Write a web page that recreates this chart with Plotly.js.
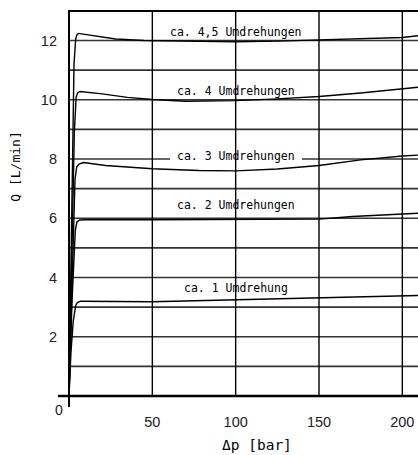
<!DOCTYPE html>
<html>
<head>
<meta charset="utf-8">
<script src="https://cdn.plot.ly/plotly-3.0.1.min.js"></script>
<style>html,body{margin:0;padding:0;background:#fff;}#chart{width:418px;height:455px;}</style>
</head>
<body>
<div id="chart"></div>
<script>
// Δp [bar] and Q [L/min] per curve
const x45 = [0, 1.5, 3, 4, 4.8, 5.6, 15, 28, 45, 75, 100, 125, 150, 175, 200, 209.4];
const y45 = [0, 5.5, 11.2, 12.05, 12.2, 12.24, 12.17, 12.05, 12.0, 11.97, 11.96, 11.98, 12.02, 12.06, 12.1, 12.16];

const x4 = [0, 1.6, 3.2, 4.3, 5.2, 6.6, 20, 35, 50, 70, 100, 125, 150, 175, 200, 209.4];
const y4 = [0, 4.5, 8.9, 10.1, 10.23, 10.28, 10.2, 10.08, 10.01, 9.95, 9.97, 10.03, 10.11, 10.23, 10.36, 10.42];

const x3 = [0, 1.8, 3.6, 4.6, 6, 8.6, 22, 50, 78, 100, 125, 150, 175, 200, 209.4];
const y3 = [0, 3.8, 7.3, 7.73, 7.83, 7.88, 7.78, 7.67, 7.61, 7.6, 7.66, 7.78, 7.97, 8.1, 8.13];

const x2 = [0, 1.8, 3.8, 4.8, 6.5, 10, 50, 100, 150, 170, 200, 209.4];
const y2 = [0, 3.2, 5.6, 5.88, 5.94, 5.95, 5.95, 5.95, 5.97, 6.06, 6.13, 6.17];

const x1 = [0, 1.2, 2.5, 4, 5, 7, 50, 75, 100, 150, 200, 209.4];
const y1 = [0, 1.5, 2.5, 3.05, 3.15, 3.2, 3.18, 3.21, 3.26, 3.3, 3.36, 3.39];

const curveLabels = ["ca. 4,5 Umdrehungen", "ca. 4 Umdrehungen", "ca. 3 Umdrehungen", "ca. 2 Umdrehungen", "ca. 1 Umdrehung"];
const labelX = [100, 100, 100, 100, 100];
const labelY = [12.3, 10.3, 8.1, 6.45, 3.63];

const xTicks = [50, 100, 150, 200];
const yTicks = [2, 4, 6, 8, 10, 12];
const xTitle = "Δp [bar]";
const yTitle = "Q [L/min]";

const series = [[x45, y45], [x4, y4], [x3, y3], [x2, y2], [x1, y1]];
const traces = series.map(s => ({
  x: s[0], y: s[1], type: 'scatter', mode: 'lines',
  line: {color: '#000', width: 1.4}, hoverinfo: 'skip', showlegend: false
}));

const shapes = [];
const hGrid = [1,2,3,4,5,6,7,8,9,10,11,12];
hGrid.forEach(v => {
  if (v === 8) {
    shapes.push({type:'line', xref:'x', yref:'y', x0:0, x1:60.6, y0:v, y1:v, line:{color:'#333', width:1.6}, layer:'below'});
    shapes.push({type:'line', xref:'x', yref:'y', x0:139.8, x1:212, y0:v, y1:v, line:{color:'#333', width:1.6}, layer:'below'});
  } else {
    shapes.push({type:'line', xref:'x', yref:'y', x0:0, x1:212, y0:v, y1:v, line:{color:'#333', width:1.6}, layer:'below'});
  }
});
xTicks.forEach(v => {
  shapes.push({type:'line', xref:'x', yref:'y', x0:v, x1:v, y0:0, y1:13, line:{color:'#000', width:1.4}, layer:'below'});
});
// top border
shapes.push({type:'line', xref:'x', yref:'y', x0:0, x1:212, y0:13, y1:13, line:{color:'#000', width:2}, layer:'below'});
// axis lines
shapes.push({type:'line', xref:'x', yref:'y', x0:-6.6, x1:212, y0:0, y1:0, line:{color:'#000', width:2.4}, layer:'below'});
shapes.push({type:'line', xref:'x', yref:'y', x0:0, x1:0, y0:-0.37, y1:13.1, line:{color:'#000', width:2}, layer:'below'});

const annFont = {family: 'DejaVu Sans Mono', size: 11.5, color: '#000'};
const annotations = curveLabels.map((t, i) => ({
  x: labelX[i], y: labelY[i], xref: 'x', yref: 'y', text: t, showarrow: false,
  font: annFont, xanchor: 'center', yanchor: 'middle'
}));
annotations.push({xref:'paper', yref:'paper', x:0.003, y:-0.007, text:'0', showarrow:false,
  font:{family:'Liberation Sans', size:14, color:'#222'}, xanchor:'center', yanchor:'middle'});
annotations.push({xref:'paper', yref:'paper', x:-0.117, y:0.605, text:yTitle, showarrow:false, textangle:-90,
  font:{family:'DejaVu Sans Mono', size:13, color:'#000'}, xanchor:'center', yanchor:'middle'});
annotations.push({xref:'paper', yref:'paper', x:0.553, y:-0.096, text:xTitle, showarrow:false,
  font:{family:'DejaVu Sans Mono', size:14.5, color:'#000'}, xanchor:'center', yanchor:'middle'});

const layout = {
  width: 418, height: 455,
  margin: {l: 58, r: 0, t: 10, b: 48, pad: 0},
  paper_bgcolor: '#fff', plot_bgcolor: '#fff',
  showlegend: false,
  xaxis: {range: [-6.6, 209.4], showgrid: false, zeroline: false, showline: false,
    tickvals: xTicks, ticks: '', ticklabelstandoff: 4, tickfont: {family: 'Liberation Sans', size: 14.5, color: '#222'}, fixedrange: true},
  yaxis: {range: [-0.372, 13.03], showgrid: false, zeroline: false, showline: false,
    tickvals: yTicks, ticks: '', tickfont: {family: 'Liberation Sans', size: 14.5, color: '#222'}, fixedrange: true},
  shapes: shapes,
  annotations: annotations
};

Plotly.newPlot('chart', traces, layout, {staticPlot: true, displayModeBar: false});
</script>
</body>
</html>
